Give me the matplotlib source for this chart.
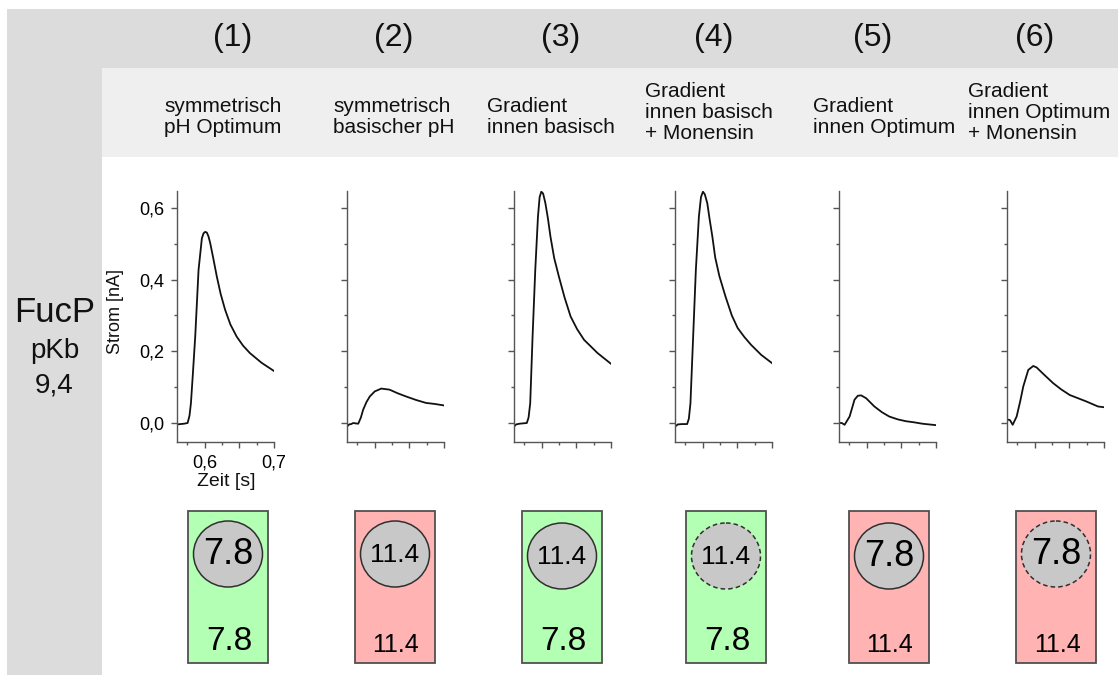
import matplotlib
matplotlib.use("Agg")
import matplotlib.pyplot as plt
from matplotlib.patches import Rectangle, Ellipse
from matplotlib.ticker import FixedLocator, FuncFormatter

plt.rcParams['font.family'] = ['Liberation Sans', 'DejaVu Sans']

# ---- data -------------------------------------------------------------
numbers = ["(1)", "(2)", "(3)", "(4)", "(5)", "(6)"]
conditions = [
    ["symmetrisch", "pH Optimum"],
    ["symmetrisch", "basischer pH"],
    ["Gradient", "innen basisch"],
    ["Gradient", "innen basisch", "+ Monensin"],
    ["Gradient", "innen Optimum"],
    ["Gradient", "innen Optimum", "+ Monensin"],
]
protein = "FucP"
pkb_label = "pKb"
pkb_value = "9,4"

inner_ph = ["7.8", "11.4", "11.4", "11.4", "7.8", "7.8"]
outer_ph = ["7.8", "11.4", "7.8", "7.8", "11.4", "11.4"]
monensin = [False, False, False, True, False, True]
optimum_ph = "7.8"

t1 = [0.560, 0.565, 0.570, 0.5753, 0.578, 0.5801, 0.583, 0.5863, 0.5911, 0.5959,
      0.5983, 0.6007, 0.6031, 0.6055, 0.6079, 0.6125, 0.6174, 0.6230, 0.6294, 0.6370,
      0.6461, 0.6552, 0.6652, 0.6820, 0.700]
i1 = [-0.004, -0.003, -0.002, 0.000, 0.020, 0.055, 0.140, 0.241, 0.427, 0.515,
      0.529, 0.533, 0.531, 0.520, 0.502, 0.458, 0.409, 0.360, 0.316, 0.275,
      0.241, 0.216, 0.195, 0.168, 0.145]

t2 = [0.560, 0.563, 0.566, 0.569, 0.572, 0.5762, 0.580, 0.5833, 0.588, 0.5929,
      0.600, 0.6095, 0.6214, 0.633, 0.6452, 0.660, 0.674, 0.687, 0.700]
i2 = [-0.010, -0.004, -0.003, 0.000, -0.001, -0.002, 0.015, 0.037, 0.058, 0.074,
      0.088, 0.096, 0.093, 0.083, 0.074, 0.064, 0.056, 0.053, 0.049]

t3 = [0.560, 0.563, 0.568, 0.5785, 0.581, 0.5834, 0.5868, 0.5907, 0.5946, 0.597,
      0.5994, 0.602, 0.6053, 0.6090, 0.6126, 0.618, 0.6247, 0.633, 0.6417,
      0.651, 0.6611, 0.6806, 0.700]
i3 = [-0.010, -0.004, -0.002, 0.000, 0.015, 0.055, 0.241, 0.427, 0.576, 0.630,
      0.645, 0.640, 0.613, 0.570, 0.520, 0.460, 0.409, 0.350, 0.297,
      0.262, 0.232, 0.195, 0.165]

t4 = [0.560, 0.564, 0.570, 0.5775, 0.580, 0.5823, 0.5862, 0.5901, 0.5945, 0.5975,
      0.6003, 0.603, 0.6066, 0.6100, 0.6139, 0.6180, 0.6240, 0.6330, 0.6420,
      0.6504, 0.6600, 0.6698, 0.6844, 0.700]
i4 = [-0.010, -0.004, -0.003, -0.003, 0.012, 0.055, 0.241, 0.427, 0.576, 0.630,
      0.645, 0.638, 0.613, 0.568, 0.520, 0.462, 0.410, 0.352, 0.300,
      0.265, 0.240, 0.218, 0.190, 0.167]

t5 = [0.560, 0.564, 0.5681, 0.5753, 0.5824, 0.5872, 0.592, 0.5992, 0.6111, 0.622,
      0.6326, 0.645, 0.6565, 0.668, 0.6803, 0.690, 0.700]
i5 = [0.000, 0.000, -0.005, 0.018, 0.065, 0.076, 0.077, 0.069, 0.046, 0.030,
      0.018, 0.010, 0.005, 0.002, -0.002, -0.004, -0.006]

t6 = [0.560, 0.5643, 0.5682, 0.5739, 0.579, 0.5835, 0.5907, 0.5979, 0.6027, 0.6123,
      0.6267, 0.638, 0.6506, 0.6746, 0.6914, 0.700]
i6 = [0.010, 0.008, -0.005, 0.018, 0.060, 0.102, 0.148, 0.159, 0.155, 0.137,
      0.111, 0.094, 0.078, 0.060, 0.046, 0.044]

times = [t1, t2, t3, t4, t5, t6]
currents = [i1, i2, i3, i4, i5, i6]

y_major = [0.0, 0.2, 0.4, 0.6]
y_minor = [0.1, 0.3, 0.5]
x_major = [0.6, 0.65, 0.7]
x_labelled = [0.6, 0.7]
x_minor = [0.575, 0.625, 0.675]

# ---- layout (pixel units, origin top-left) ----------------------------
W, H = 1118, 675
fig = plt.figure(figsize=(W / 100, H / 100), dpi=100)
fig.patch.set_facecolor("white")

bg = fig.add_axes([0, 0, 1, 1], zorder=0)
bg.set_xlim(0, W)
bg.set_ylim(H, 0)
bg.axis("off")

DARK = "#dcdcdc"
LIGHT = "#efefef"
bg.add_patch(Rectangle((7, 9), W - 7, 59, facecolor=DARK, edgecolor="none"))
bg.add_patch(Rectangle((7, 9), 94.5, H - 9, facecolor=DARK, edgecolor="none"))
bg.add_patch(Rectangle((101.5, 68), W - 101.5, 89, facecolor=LIGHT, edgecolor="none"))

num_x = [233, 394, 561, 714, 873, 1035]
cond_x = [164, 333, 487, 645, 813, 968]
axes_left = [177, 347, 514, 675, 839, 1007]
ax_w = 97
ax_top, ax_bot = 191, 442
box_cx = [228, 395, 562, 726, 889, 1056]

for k in range(6):
    bg.text(num_x[k], 38, numbers[k], ha="center", va="center", fontsize=23, color="#111111")
    lines = conditions[k]
    base = 112 if len(lines) == 2 else 97
    for j, line in enumerate(lines):
        bg.text(cond_x[k], base + 21 * j, line, ha="left", va="baseline",
                fontsize=15, color="#111111")

bg.text(55, 312, protein, ha="center", va="center", fontsize=25, color="#111111")
bg.text(55, 351, pkb_label, ha="center", va="center", fontsize=20, color="#111111")
bg.text(54, 386, pkb_value, ha="center", va="center", fontsize=20, color="#111111")

# compartment sketches below the traces: green outside = optimum pH, red = basic pH
for k in range(6):
    cx = box_cx[k]
    face = "#b3ffb3" if outer_ph[k] == optimum_ph else "#ffb3b3"
    bg.add_patch(Rectangle((cx - 40, 511), 80, 152, facecolor=face,
                           edgecolor="#505050", linewidth=1.3))
    cy = 554 if k in (0, 1, 5) else 556
    bg.add_patch(Ellipse((cx, cy), 69, 66, facecolor="#c8c8c8", edgecolor="#303030",
                         linewidth=1.1, linestyle=(0, (3, 2)) if monensin[k] else "-"))
    inner_fs = 26 if inner_ph[k] == optimum_ph else 19
    bg.text(cx, cy + 1, inner_ph[k], ha="center", va="center", fontsize=inner_fs, color="black")
    outer_fs = 24 if outer_ph[k] == optimum_ph else 18
    oy = 642 if outer_ph[k] == optimum_ph else 645
    bg.text(cx + 1, oy, outer_ph[k], ha="center", va="center", fontsize=outer_fs, color="black")

# ---- current traces ----------------------------------------------------
def fmt(v, pos):
    return f"{v:.1f}".replace(".", ",")

def xfmt(v, pos):
    return f"{v:.1f}".replace(".", ",") if any(abs(v - m) < 1e-9 for m in x_labelled) else ""

for k in range(6):
    ax = fig.add_axes([axes_left[k] / W, (H - ax_bot) / H, ax_w / W, (ax_bot - ax_top) / H],
                      zorder=1)
    ax.patch.set_alpha(0)
    ax.plot(times[k], currents[k], color="#111111", linewidth=1.3)
    ax.set_xlim(0.56, 0.70)
    ax.set_ylim(-0.053, 0.647)
    for s in ("top", "right"):
        ax.spines[s].set_visible(False)
    for s in ("left", "bottom"):
        ax.spines[s].set_color("#555555")
        ax.spines[s].set_linewidth(1.0)
    ax.yaxis.set_major_locator(FixedLocator(y_major))
    ax.yaxis.set_minor_locator(FixedLocator(y_minor))
    ax.xaxis.set_major_locator(FixedLocator(x_major))
    ax.xaxis.set_minor_locator(FixedLocator(x_minor))
    ax.tick_params(which="major", length=4, width=1, color="#555555", direction="out",
                   labelsize=13, pad=5)
    ax.tick_params(which="minor", length=2.5, width=1, color="#555555", direction="out")
    if k == 0:
        ax.yaxis.set_major_formatter(FuncFormatter(fmt))
        ax.xaxis.set_major_formatter(FuncFormatter(xfmt))
    else:
        ax.set_yticklabels([])
        ax.set_xticklabels([])

bg.text(116, 312, "Strom [nA]", rotation=90, ha="center", va="center", fontsize=13, color="#111111")
bg.text(226, 482, "Zeit [s]", ha="center", va="center", fontsize=14, color="#111111")

fig.savefig("out.png", dpi=100)
